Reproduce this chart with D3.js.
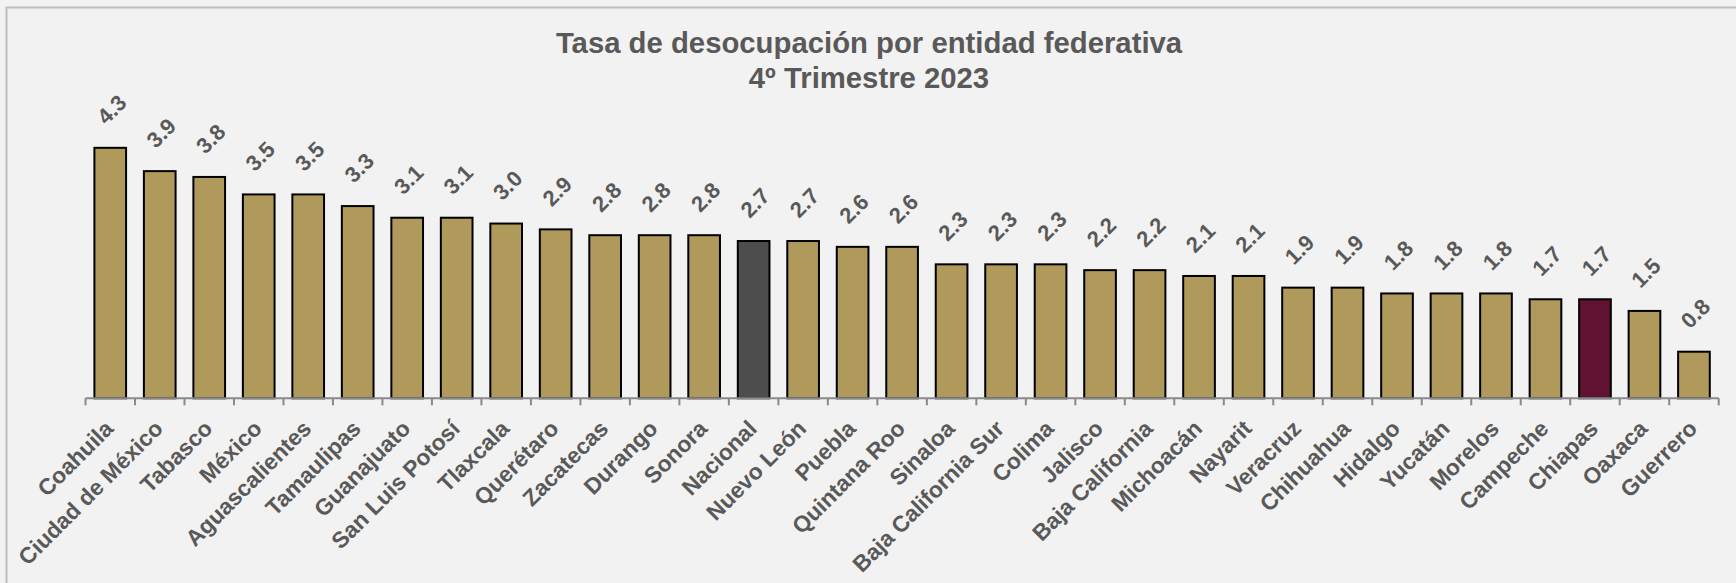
<!DOCTYPE html>
<html>
<head>
<meta charset="utf-8">
<script src="https://cdn.jsdelivr.net/npm/d3@7"></script>
<style>
html,body{margin:0;padding:0;background:#F2F2F2;}
svg{display:block;}
</style>
</head>
<body>
<svg id="chart" width="1736" height="583"></svg>
<script>
const categories = ["Coahuila","Ciudad de México","Tabasco","México","Aguascalientes","Tamaulipas","Guanajuato","San Luis Potosí","Tlaxcala","Querétaro","Zacatecas","Durango","Sonora","Nacional","Nuevo León","Puebla","Quintana Roo","Sinaloa","Baja California Sur","Colima","Jalisco","Baja California","Michoacán","Nayarit","Veracruz","Chihuahua","Hidalgo","Yucatán","Morelos","Campeche","Chiapas","Oaxaca","Guerrero"];
const values = [4.3,3.9,3.8,3.5,3.5,3.3,3.1,3.1,3.0,2.9,2.8,2.8,2.8,2.7,2.7,2.6,2.6,2.3,2.3,2.3,2.2,2.2,2.1,2.1,1.9,1.9,1.8,1.8,1.8,1.7,1.7,1.5,0.8];
const highlight = {"Nacional":"#4D4D4D","Chiapas":"#611232"};
const titleLines = ["Tasa de desocupación por entidad federativa","4º Trimestre 2023"];

const svg = d3.select("#chart");
const W = 1736, H = 583;
const textColor = "#595959";
const font = "'Liberation Sans', Arial, sans-serif";

// frame
svg.append("rect").attr("x",0).attr("y",0).attr("width",W).attr("height",H).attr("fill","#F2F2F2");
svg.append("path").attr("d",`M6.5,${H+2} L6.5,7.5 L${W+2},7.5`).attr("fill","none").attr("stroke","#BEBEBE").attr("stroke-width",2);

// title
const title = svg.append("text").attr("x",869).attr("text-anchor","middle")
  .attr("font-family",font).attr("font-weight","bold").attr("font-size",29.3).attr("fill",textColor);
title.append("tspan").attr("x",869).attr("y",53).text(titleLines[0]);
title.append("tspan").attr("x",869).attr("y",88).text(titleLines[1]);

const x = d3.scaleBand().domain(categories).range([85.5, 1718.7]).paddingInner(0.36).paddingOuter(0.18);
const y = d3.scaleLinear().domain([0,5]).range([398.3, 398.3 - 5*58.25]);
const step = x.step();
const data = categories.map((c,i)=>({c, v: values[i]}));

// bars
svg.append("g").selectAll("rect").data(data).join("rect")
  .attr("x", d=>x(d.c)).attr("width", x.bandwidth())
  .attr("y", d=>y(d.v)).attr("height", d=>y(0)-y(d.v))
  .attr("fill", d=>highlight[d.c] || "#B09A5B")
  .attr("stroke","#000").attr("stroke-width",2);

// axis
const axisG = svg.append("g");
const r = x.range();
axisG.append("line").attr("x1",r[0]).attr("x2",r[1]).attr("y1",y(0)).attr("y2",y(0))
  .attr("stroke","#898989").attr("stroke-width",2);
const tickPos = d3.range(categories.length+1).map(i=>r[0]+i*step);
axisG.selectAll("line.tick").data(tickPos).join("line").attr("class","tick")
  .attr("x1",d=>d).attr("x2",d=>d).attr("y1",y(0)).attr("y2",y(0)+7)
  .attr("stroke","#898989").attr("stroke-width",2);

// category labels
svg.append("g").selectAll("text").data(data).join("text")
  .attr("transform", d=>`translate(${x(d.c)+x.bandwidth()/2+4.5},${430}) rotate(-45)`)
  .attr("text-anchor","end")
  .attr("font-family",font).attr("font-weight","bold").attr("font-size",22.7).attr("fill",textColor)
  .text(d=>d.c);

// value labels
svg.append("g").selectAll("text").data(data).join("text")
  .attr("transform", d=>`translate(${x(d.c)+x.bandwidth()/2-4},${y(d.v)-22}) rotate(-45)`)
  .attr("text-anchor","start")
  .attr("font-family",font).attr("font-weight","bold").attr("font-size",22).attr("fill",textColor)
  .text(d=>d3.format(".1f")(d.v));
</script>
</body>
</html>
